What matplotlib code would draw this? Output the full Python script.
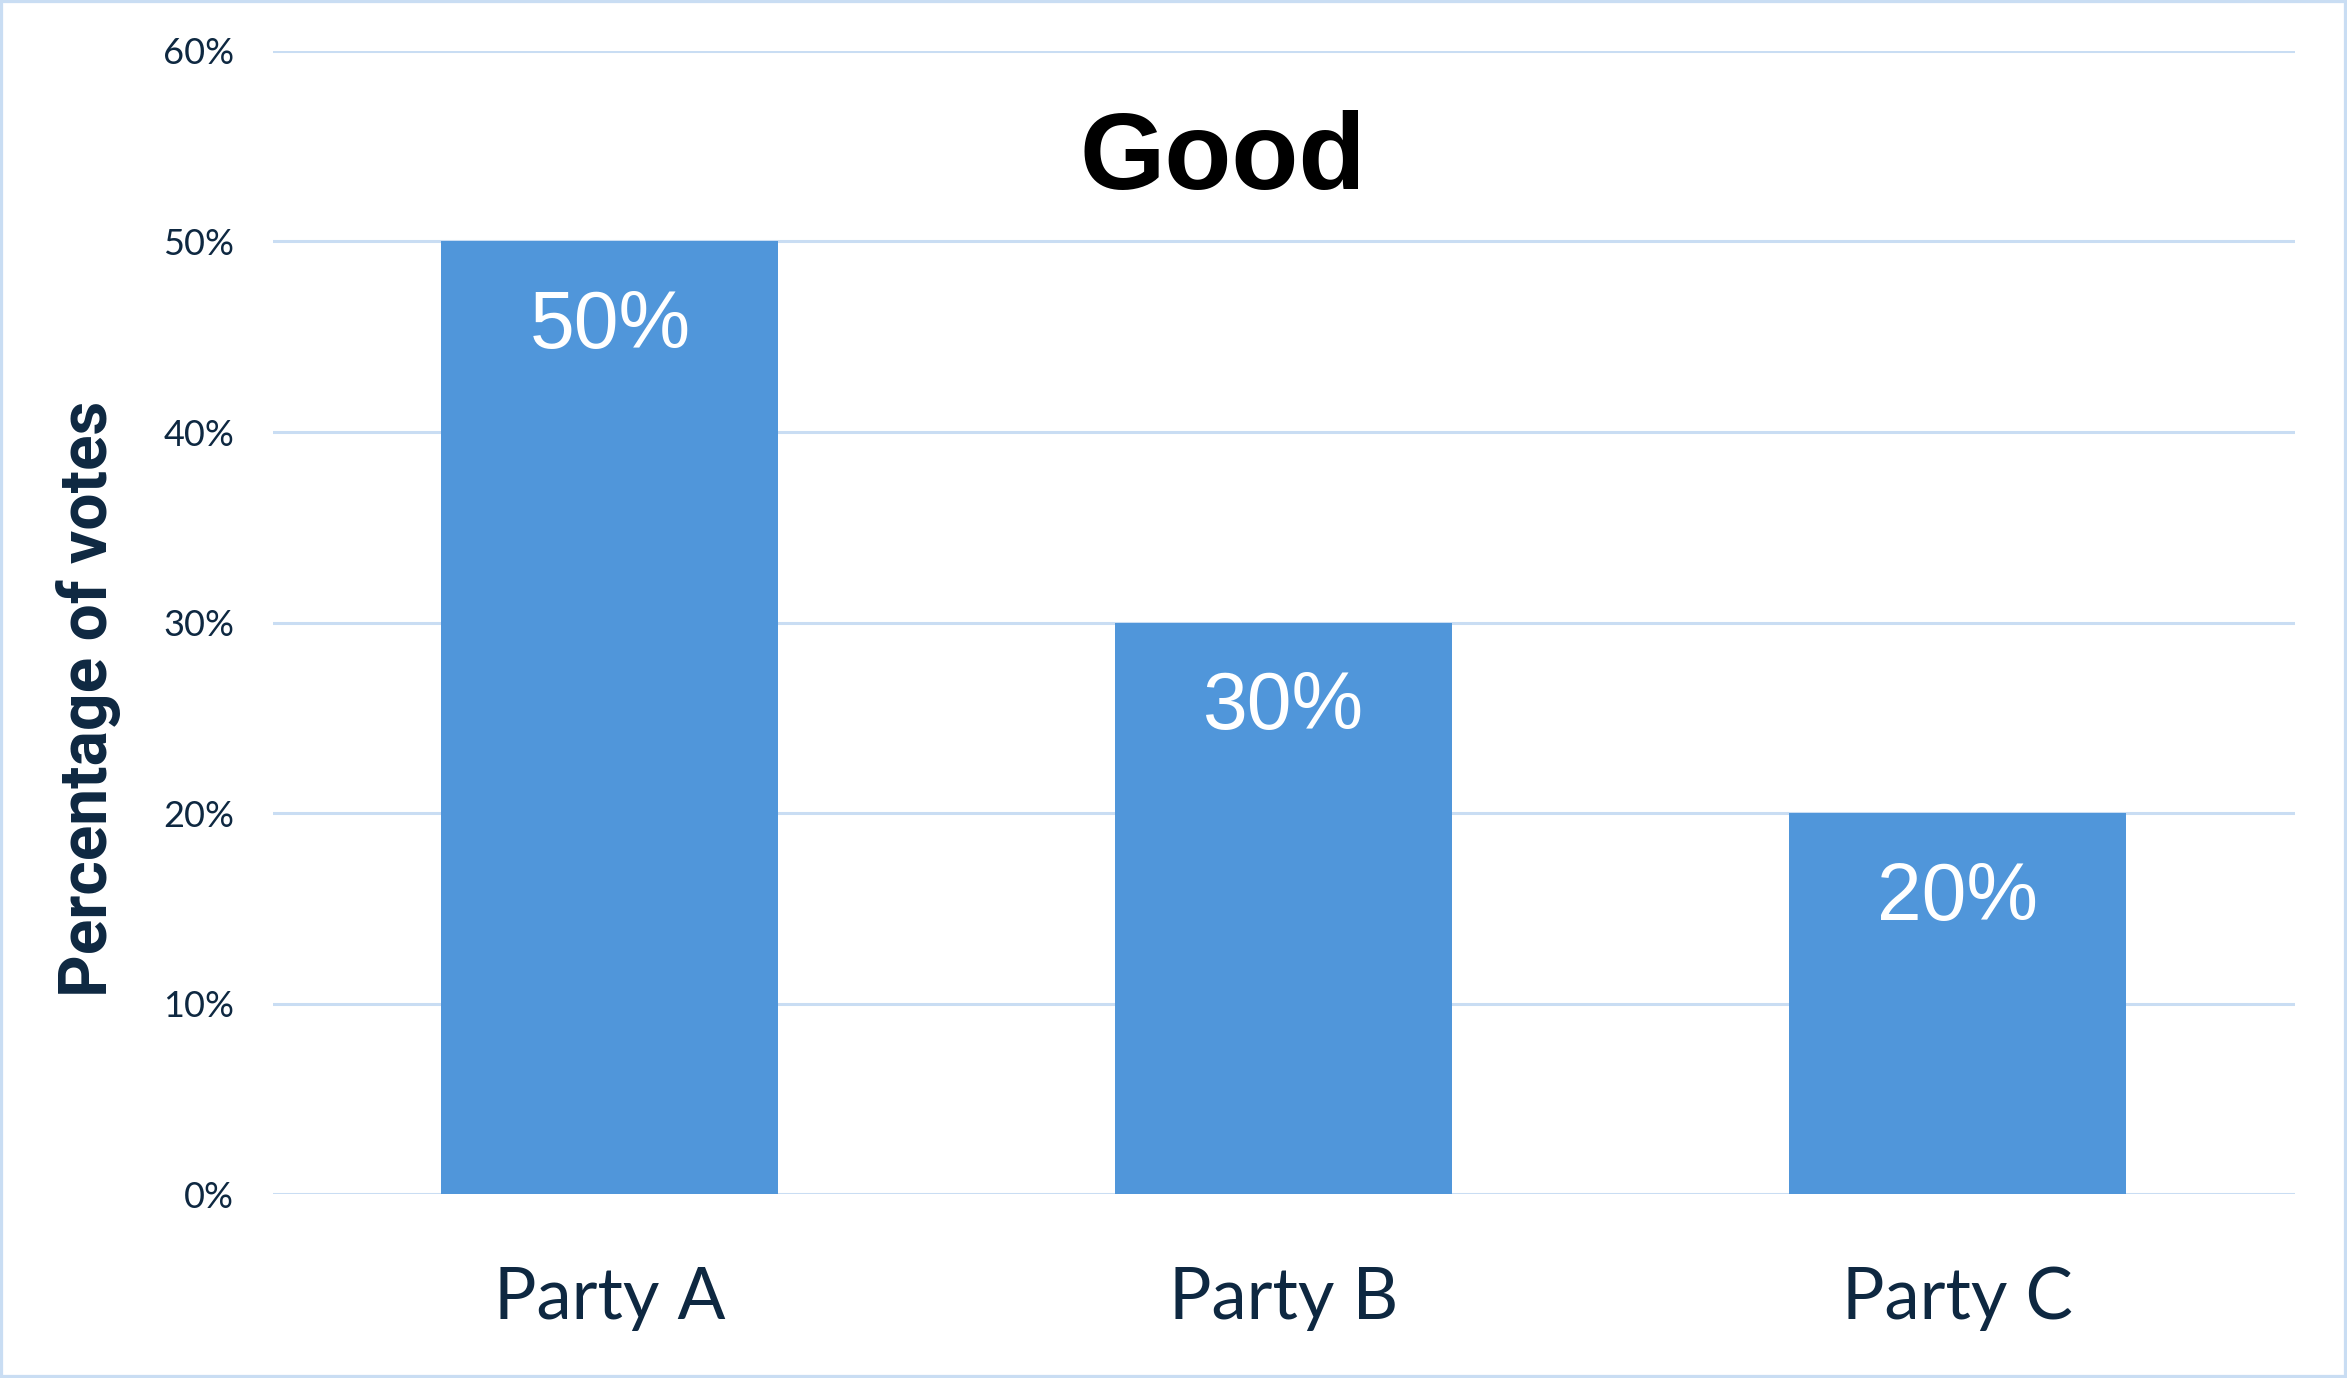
import matplotlib.pyplot as plt
from matplotlib.patches import Rectangle
from matplotlib.ticker import PercentFormatter

parties = ["Party A", "Party B", "Party C"]
votes = [0.50, 0.30, 0.20]
y_ticks = [0.0, 0.1, 0.2, 0.3, 0.4, 0.5, 0.6]

navy = "#0E2841"
bar_color = "#5096DA"
grid_color = "#C9DDF3"

fig = plt.figure(figsize=(23.47, 13.78), dpi=100)
ax = fig.add_axes([0.1163, 0.1335, 0.8615, 0.8295])

x = range(len(parties))
bars = ax.bar(x, votes, width=0.5, color=bar_color, zorder=3)

ax.set_xlim(-0.5, len(parties) - 0.5)
ax.set_ylim(0, 0.6)
ax.set_yticks(y_ticks)
ax.yaxis.set_major_formatter(PercentFormatter(1.0, decimals=0))
ax.set_xticks(list(x))
ax.set_xticklabels(parties)

ax.grid(axis="y", color=grid_color, linewidth=2.2, zorder=0)
ax.grid(axis="x", visible=False)
for s in ax.spines.values():
    s.set_visible(False)

ax.tick_params(axis="y", length=0, pad=28, labelsize=26, labelcolor=navy)
ax.tick_params(axis="x", length=0, pad=52, labelsize=51, labelcolor=navy)
for lab in ax.get_yticklabels():
    lab.set_fontfamily("Lato")
for lab in ax.get_xticklabels():
    lab.set_fontfamily("Lato")

for b, v in zip(bars, votes):
    ax.annotate(f"{v:.0%}", (b.get_x() + b.get_width() / 2, v),
                xytext=(0, -77), textcoords="offset points",
                ha="center", va="baseline", color="white",
                fontsize=58, fontfamily="Liberation Sans", zorder=4)

fig.text(0.521, 0.863, "Good", ha="center", va="baseline",
         fontsize=79, fontweight="bold", fontfamily="Liberation Sans",
         color="black")
fig.text(0.0378, 0.493, "Percentage of votes", rotation=90,
         ha="center", va="center", fontsize=47.5, fontweight="bold",
         fontfamily="Roboto", color=navy)

fig.patches.append(Rectangle((0, 0), 1, 1, transform=fig.transFigure,
                             fill=False, edgecolor=grid_color, linewidth=4.5))

fig.savefig("out.png", dpi=100)
